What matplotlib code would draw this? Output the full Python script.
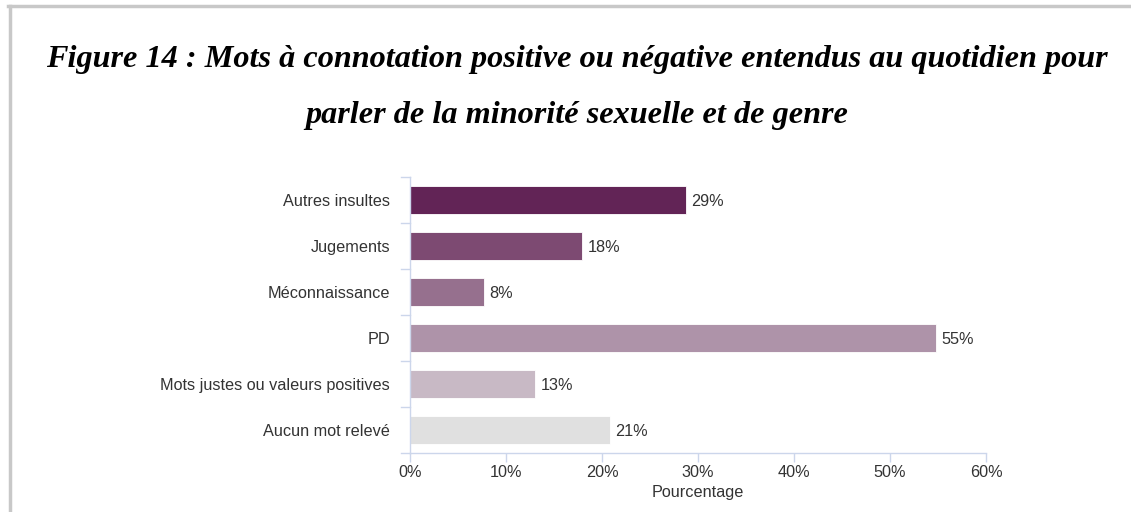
import matplotlib.pyplot as plt
from matplotlib.lines import Line2D

categories = ['Autres insultes', 'Jugements', 'Méconnaissance', 'PD',
              'Mots justes ou valeurs positives', 'Aucun mot relevé']
values = [28.7, 17.9, 7.7, 54.8, 13.0, 20.8]
colors = ['#622456', '#7d4a72', '#96708e', '#ae93a9', '#c8b9c5', '#e0e0e0']
xticks = [0, 10, 20, 30, 40, 50, 60]

title1 = 'Figure 14 : Mots à connotation positive ou négative entendus au quotidien pour'
title2 = 'parler de la minorité sexuelle et de genre'

axis_col = '#ccd6eb'
text_col = '#333333'
font = 'Liberation Sans'
fs = 11.7

fig = plt.figure(figsize=(11.31, 5.12), dpi=100)
ax = fig.add_axes([410 / 1131, 1 - 453 / 512, 576 / 1131, 276 / 512])

y = list(range(len(categories)))
ax.barh(y, values, height=0.6, color=colors, edgecolor='white', linewidth=0.6)
for yi, v in zip(y, values):
    ax.text(v + 0.6, yi + 0.04, f'{round(v)}%', va='center', ha='left', fontsize=fs,
            color=text_col, family=font)

ax.set_xlim(0, 60)
ax.set_ylim(len(categories) - 0.5, -0.5)
ax.set_xticks(xticks)
ax.set_xticklabels([f'{t}%' for t in xticks], fontsize=fs, color=text_col, family=font)
ax.set_yticks(y)
ax.set_yticklabels(categories, fontsize=fs, color=text_col, family=font)
ax.tick_params(axis='y', length=0, pad=14.4)
ax.tick_params(axis='x', length=6.5, color=axis_col, width=1, pad=2)
ax.set_xlabel('Pourcentage', fontsize=fs, color=text_col, family=font, labelpad=4)

for s in ['top', 'right']:
    ax.spines[s].set_visible(False)
for s in ['left', 'bottom']:
    ax.spines[s].set_color(axis_col)
    ax.spines[s].set_linewidth(1)

# category boundary ticks on the left axis
for b in [i - 0.5 for i in range(len(categories) + 1)]:
    ax.plot([-0.95, 0], [b, b], color=axis_col, lw=1, clip_on=False)

# page frame
fig.add_artist(Line2D([8 / 1131, 1], [1 - 6 / 512, 1 - 6 / 512], color='#c8c8c8', lw=2.5))
fig.add_artist(Line2D([9.5 / 1131, 9.5 / 1131], [0, 1 - 6 / 512], color='#c8c8c8', lw=2.5))

fig.text(577 / 1131, 1 - 60 / 512, title1, ha='center', va='center', fontsize=23.2,
         family='Liberation Serif', weight='bold', style='italic')
fig.text(577 / 1131, 1 - 115 / 512, title2, ha='center', va='center', fontsize=23.2,
         family='Liberation Serif', weight='bold', style='italic')

fig.savefig('out.png', dpi=100)
